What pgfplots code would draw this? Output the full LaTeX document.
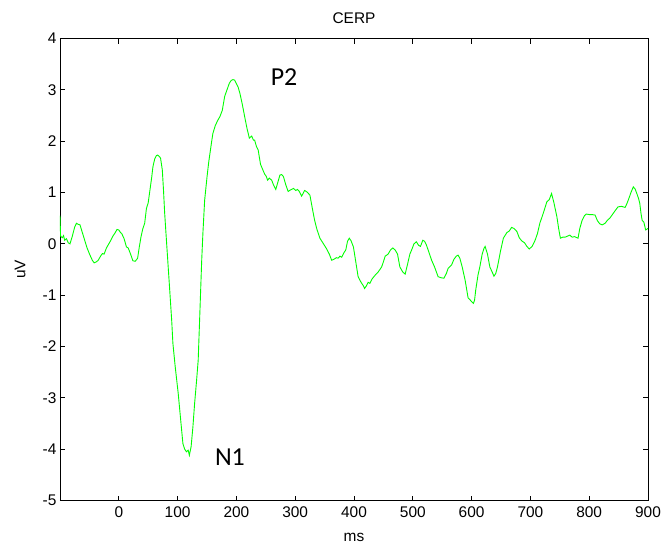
\documentclass[border=0pt]{standalone}
\usepackage{pgfplots}
\pgfplotsset{compat=1.18}
\usepackage{fontspec}
\setmainfont{Liberation Sans}
\newfontfamily\calib{Carlito}
\pgfplotstableread{
x y
-100 0.55
-99 0.15
-96 0.12
-94 0.16
-92 0.07
-89 0.10
-86 0.02
-83 0.00
-79 0.15
-75 0.33
-72 0.40
-69 0.38
-66 0.37
-62 0.22
-58 0.07
-54 -0.08
-49 -0.22
-45 -0.32
-42 -0.37
-38 -0.35
-35 -0.32
-31 -0.24
-28 -0.19
-25 -0.20
-21 -0.08
-15 0.04
-10 0.15
-6 0.22
-3 0.28
0 0.27
3 0.22
5 0.20
9 0.10
13 -0.06
16 -0.08
20 -0.20
24 -0.33
28 -0.34
32 -0.28
35 -0.05
38 0.15
41 0.30
44 0.40
47 0.69
50 0.80
53 1.05
56 1.30
58 1.50
61 1.65
64 1.72
66 1.73
69 1.70
71 1.67
74 1.44
76 1.05
78 0.6
81 0.07
84 -0.45
87 -0.97
90 -1.5
92 -1.94
96 -2.4
101 -2.91
105 -3.4
109 -3.89
112 -4.00
115 -4.05
118 -4.02
120 -4.12
123 -3.95
126 -3.57
129 -3.1
132 -2.7
135 -2.27
138 -1.3
141 -0.32
143 0.2
146 0.85
150 1.3
153 1.6
155 1.76
158 2.0
160 2.15
164 2.3
168 2.4
172 2.48
176 2.6
180 2.87
184 3.0
188 3.13
191 3.18
194 3.2
197 3.19
200 3.12
203 3.05
206 2.93
210 2.72
214 2.48
218 2.25
222 2.06
226 2.1
229 2.02
231 2.02
234 1.9
237 1.83
241 1.55
245 1.44
248 1.36
251 1.31
253 1.24
256 1.28
260 1.24
263 1.15
267 1.06
270 1.18
274 1.34
277 1.35
280 1.31
284 1.15
288 1.02
292 1.05
297 1.08
301 1.04
304 1.06
307 1.02
311 0.93
316 1.04
320 1.01
325 0.95
329 0.7
333 0.46
337 0.28
342 0.11
347 0.02
353 -0.09
358 -0.2
362 -0.32
366 -0.3
370 -0.27
373 -0.28
376 -0.24
379 -0.26
383 -0.17
386 -0.12
389 0.05
392 0.11
395 0.06
399 -0.06
403 -0.35
407 -0.64
412 -0.75
416 -0.82
418 -0.87
421 -0.82
424 -0.75
427 -0.77
431 -0.68
436 -0.61
441 -0.55
447 -0.45
450 -0.35
453 -0.24
458 -0.2
462 -0.12
466 -0.08
470 -0.12
474 -0.2
478 -0.45
483 -0.55
487 -0.59
491 -0.4
495 -0.2
498 -0.12
502 0.0
506 0.04
510 -0.03
513 -0.05
517 0.07
520 0.05
523 -0.02
527 -0.15
532 -0.32
537 -0.45
543 -0.64
548 -0.66
553 -0.67
557 -0.58
560 -0.48
566 -0.41
570 -0.30
574 -0.24
577 -0.22
580 -0.28
584 -0.45
589 -0.71
594 -1.05
598 -1.10
603 -1.16
605 -1.10
607 -0.90
611 -0.6
614 -0.45
618 -0.2
621 -0.09
623 -0.05
627 -0.2
631 -0.45
635 -0.55
638 -0.63
641 -0.58
644 -0.45
649 -0.15
654 0.11
660 0.22
664 0.25
668 0.32
672 0.30
677 0.24
681 0.12
685 0.06
690 0.02
694 -0.05
698 -0.10
703 -0.05
708 0.07
712 0.2
716 0.40
722 0.6
728 0.82
732 0.86
736 0.98
740 0.8
745 0.53
748 0.3
751 0.11
755 0.13
759 0.13
763 0.15
767 0.17
771 0.13
775 0.14
781 0.11
784 0.3
788 0.46
792 0.55
795 0.58
800 0.57
805 0.57
810 0.56
814 0.45
818 0.39
822 0.37
827 0.40
831 0.46
835 0.50
840 0.58
845 0.66
849 0.72
855 0.73
861 0.71
864 0.78
867 0.87
871 1.0
875 1.11
878 1.07
881 0.98
884 0.88
886 0.79
888 0.6
890 0.46
893 0.42
896 0.27
900 0.30
}\cerp
\begin{document}
\begin{tikzpicture}
\useasboundingbox (-60bp,-47.5bp) rectangle (601bp,500.5bp);
\begin{axis}[
  at={(0,0)}, anchor=south west,
  scale only axis,
  width=588bp, height=462bp,
  xmin=-100, xmax=900, ymin=-5, ymax=4,
  xtick={0,100,...,900},
  ytick={-5,-4,...,4},
  tick align=inside,
  major tick length=5bp,
  tick style={black, line width=0.7bp},
  axis line style={black, line width=0.9bp},
  /pgf/number format/assume math mode=true,
  ticklabel style={font=\fontsize{15.5}{17}\selectfont},
  xticklabel style={yshift=-3bp},
  yticklabel style={xshift=0bp},
  title={CERP},
  title style={font=\fontsize{15.5}{17}\selectfont, at={(0.5,1)}, anchor=south, yshift=5bp},
  xlabel={ms},
  ylabel={uV},
  label style={font=\fontsize{15.5}{17}\selectfont},
  xlabel style={at={(0.5,0)}, anchor=north, yshift=-29bp},
  ylabel style={at={(0,0.5)}, anchor=south, rotate=0, yshift=31bp},
  clip=true,
]
\addplot[color={rgb,255:red,0;green,255;blue,0}, line width=0.9bp] table[x=x,y=y] {\cerp};
\node[font=\calib\fontsize{26}{28}\selectfont] at (axis cs:281,3.25) {P2};
\node[font=\calib\fontsize{26}{28}\selectfont] at (axis cs:189,-4.16) {N1};
\end{axis}
\end{tikzpicture}
\end{document}
